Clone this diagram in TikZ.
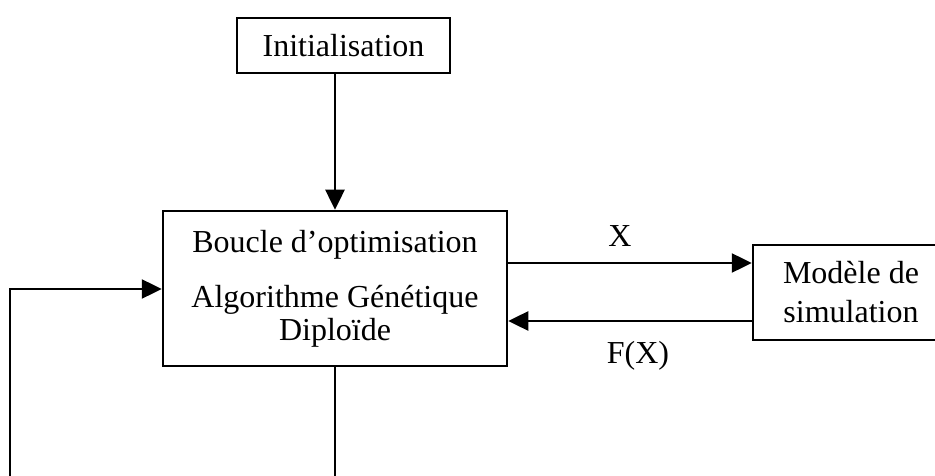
\documentclass[tikz,border=0pt]{standalone}
\usepackage{fontspec}
\setmainfont{Liberation Serif}
\usetikzlibrary{arrows.meta}
\tikzset{
  box/.style={draw, line width=2.5pt, rectangle, inner sep=0pt, align=center,
    font=\fontsize{32}{33}\selectfont},
  arr/.style={line width=2.5pt, -{Triangle[length=20pt,width=19pt]}},
  lbl/.style={font=\fontsize{32}{33}\selectfont, inner sep=0pt}
}
\begin{document}
\begin{tikzpicture}[x=1pt,y=-1pt]
\useasboundingbox (0,0) rectangle (935,476);
\clip (0,0) rectangle (935,476);
\node[box, minimum width=213pt, minimum height=55pt] (init) at (343.5,45.5) {Initialisation};
\node[box, minimum width=344pt, minimum height=155pt] (main) at (335,288.5)
  {Boucle d’optimisation\\[22pt]Algorithme Génétique\\Diploïde};
\node[box, minimum width=196pt, minimum height=95pt, font=\fontsize{32}{39}\selectfont] (model) at (851,292.5)
  {Modèle de\\simulation};
\coordinate (xy) at (0,263);
\coordinate (fy) at (0,321);
\coordinate (ly) at (0,289);
\coordinate (bot) at (0,500);
\coordinate (lx) at (10,0);
\draw[arr] (main.north |- init.south) -- (main.north);
\draw[arr] (main.east |- xy) -- (model.west |- xy);
\draw[arr] (model.west |- fy) -- (main.east |- fy);
\draw[arr] (main.south) -- (main.south |- bot) -- (lx |- bot) -- (lx |- ly) -- (main.west |- ly);
\node[lbl] (xlab) at (620,236) {X};
\node[lbl] (flab) at (638,356) {F(X)};
\end{tikzpicture}
\end{document}
